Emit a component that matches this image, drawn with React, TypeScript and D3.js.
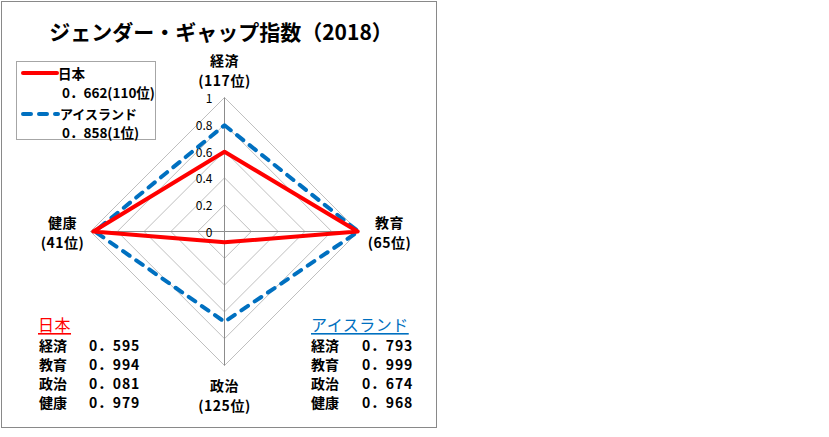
import React from "react";
import * as d3 from "d3";

const categories = ["経済", "教育", "政治", "健康"];
const ranks = ["(117位)", "(65位)", "(125位)", "(41位)"];
const japan = [0.595, 0.994, 0.081, 0.979];
const iceland = [0.793, 0.999, 0.674, 0.968];
const ticks = [0, 0.2, 0.4, 0.6, 0.8, 1];
const seriesNames = ["日本", "アイスランド"];
const overallScores = ["0．662(110位)", "0．858(1位)"];
const title = "ジェンダー・ギャップ指数（2018）";

const FONT = "'MS PGothic', 'Noto Sans CJK JP', sans-serif";
const RED = "#FF0000";
const BLUE = "#0070C0";

export default function App() {
  const cx = 224.5;
  const cy = 231.5;
  const R = 134;
  const r = d3.scaleLinear().domain([0, 1]).range([0, R]);
  const angle = d3
    .scalePoint<string>()
    .domain(categories)
    .range([0, (2 * Math.PI * (categories.length - 1)) / categories.length]);

  const radial = d3
    .lineRadial<number>()
    .angle((_, i) => angle(categories[i]) as number)
    .radius((d) => r(d))
    .curve(d3.curveLinearClosed);

  const pt = (i: number, v: number) => {
    const a = angle(categories[i]) as number;
    return [cx + Math.sin(a) * r(v), cy - Math.cos(a) * r(v)];
  };

  // label anchor per axis (top, right, bottom, left)
  const lp = [
    { x: cx, y: cy - R - 38 },
    { x: cx + R + 31, y: cy - 10 },
    { x: cx, y: cy + R + 19 },
    { x: cx - R - 28, y: cy - 10 },
  ];

  const fmt = (v: number) => "0．" + d3.format(".3f")(v).slice(2);

  const listRows = (vals: number[], x0: number, x1: number, color: string, name: string, nameX: number) => (
    <g>
      <text x={nameX} y={324} fontSize={16} fill={color} dominantBaseline="central" textDecoration="underline" letterSpacing={0.5}>
        {name}
      </text>
      {categories.map((c, i) => (
        <g key={c}>
          <text x={x0} y={345 + i * 19} fontSize={14} fontWeight="bold" dominantBaseline="central">
            {c}
          </text>
          <text x={x1} y={345 + i * 19} fontSize={14} fontWeight="bold" dominantBaseline="central" letterSpacing={0.8}>
            {fmt(vals[i])}
          </text>
        </g>
      ))}
    </g>
  );

  return (
    <svg
      width={829}
      height={437}
      style={{ position: "absolute", left: 0, top: 0, background: "#fff" }}
      fontFamily={FONT}
    >
      <rect x={0} y={0} width={829} height={437} fill="#fff" />
      <rect x={1.5} y={1.5} width={435} height={426} fill="none" stroke="#898989" strokeWidth={1} />
      <text x={221} y={31} textAnchor="middle" dominantBaseline="central" fontSize={21} fontWeight="bold">
        {title}
      </text>

      {/* grid rings */}
      {ticks.slice(1).map((t) => (
        <path
          key={t}
          d={radial(categories.map(() => t)) || ""}
          transform={`translate(${cx},${cy})`}
          fill="none"
          stroke="#BFBFBF"
          strokeWidth={1}
        />
      ))}
      {/* spokes */}
      {categories.map((c, i) => {
        const [x, y] = pt(i, 1);
        return <line key={c} x1={cx} y1={cy} x2={x} y2={y} stroke="#8C8C8C" strokeWidth={1} />;
      })}
      {/* tick labels */}
      {ticks.map((t) => (
        <text
          key={t}
          x={cx - 12}
          y={cy - r(t)}
          textAnchor="end"
          dominantBaseline="central"
          fontSize={12}
          fill="#000"
        >
          {String(t)}
        </text>
      ))}

      {/* series */}
      <path
        d={radial(iceland) || ""}
        transform={`translate(${cx},${cy})`}
        fill="none"
        stroke={BLUE}
        strokeWidth={4}
        strokeDasharray="8 8"
        strokeLinecap="round"
        strokeLinejoin="round"
      />
      <path
        d={radial(japan) || ""}
        transform={`translate(${cx},${cy})`}
        fill="none"
        stroke={RED}
        strokeWidth={4}
        strokeLinejoin="round"
      />

      {/* category labels */}
      {categories.map((c, i) => (
        <g key={c} fontSize={14} fontWeight="bold" letterSpacing={0.5}>
          <text x={lp[i].x} y={lp[i].y} textAnchor="middle" dominantBaseline="central">
            {c}
          </text>
          <text x={lp[i].x} y={lp[i].y + 20} textAnchor="middle" dominantBaseline="central">
            {ranks[i]}
          </text>
        </g>
      ))}

      {/* legend */}
      <rect x={16.5} y={61.5} width={139} height={78} fill="#fff" stroke="#A6A6A6" strokeWidth={1} />
      <line x1={23} y1={73} x2={57} y2={73} stroke={RED} strokeWidth={4} strokeLinecap="round" />
      <text x={58} y={73} fontSize={13.5} fontWeight="bold" dominantBaseline="central">
        {seriesNames[0]}
      </text>
      <text x={62} y={92} fontSize={13.5} fontWeight="bold" dominantBaseline="central">
        {overallScores[0]}
      </text>
      <line
        x1={23}
        y1={114}
        x2={58}
        y2={114}
        stroke={BLUE}
        strokeWidth={4}
        strokeDasharray="8 8"
        strokeLinecap="round"
      />
      <text x={60} y={113} fontSize={13} fontWeight="bold" dominantBaseline="central">
        {seriesNames[1]}
      </text>
      <text x={62} y={132} fontSize={13.5} fontWeight="bold" dominantBaseline="central">
        {overallScores[1]}
      </text>

      {listRows(japan, 39, 89, RED, seriesNames[0], 38)}
      {listRows(iceland, 311, 362, BLUE, seriesNames[1], 311)}
    </svg>
  );
}
